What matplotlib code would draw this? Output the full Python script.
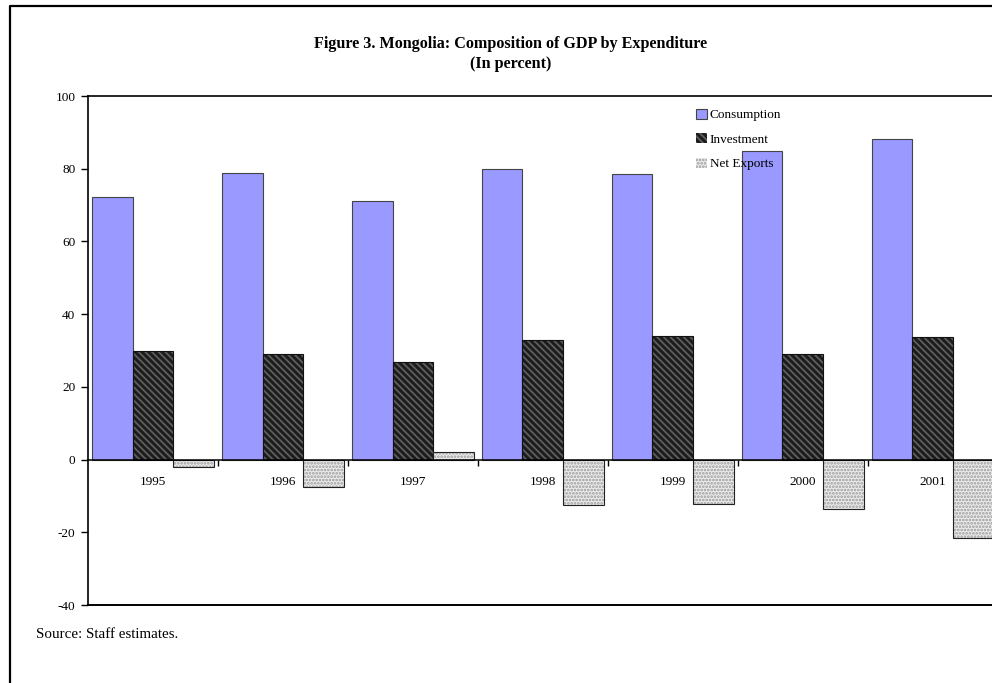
import numpy as np
import matplotlib
matplotlib.use('Agg')
import matplotlib.pyplot as plt
from matplotlib.lines import Line2D

plt.rcParams['font.family'] = ['Liberation Serif', 'DejaVu Serif']
plt.rcParams['hatch.linewidth'] = 1.3

# GDP shares by expenditure, percent
years = ['1995', '1996', '1997', '1998', '1999', '2000', '2001']
consumption = [72.2, 78.8, 71.1, 79.9, 78.5, 84.9, 88.1]
investment = [29.9, 29.0, 26.8, 32.9, 34.0, 29.0, 33.7]
net_exports = [-2.0, -7.5, 2.1, -12.5, -12.2, -13.6, -21.6]

fig = plt.figure(figsize=(9.92, 6.83), dpi=100)
ax = fig.add_axes([0.0887, 0.1142, 0.917, 0.7452])

x = np.arange(len(years))
w = 0.313

b1 = ax.bar(x - w, consumption, w, color='#9999ff', edgecolor='#444444', linewidth=0.8, label='Consumption')
# hatched bars: hatch colour comes from edgecolor, outline drawn on top
b2 = ax.bar(x, investment, w, color='#1c1c1c', edgecolor='#5e5e5e', hatch='\\\\\\\\\\', linewidth=0, label='Investment')
ax.bar(x, investment, w, fill=False, edgecolor='#111111', linewidth=0.8)
b3 = ax.bar(x + w, net_exports, w, color='#ececec', edgecolor='#9a9a9a', hatch='.....', linewidth=0, label='Net Exports')
ax.bar(x + w, net_exports, w, fill=False, edgecolor='#222222', linewidth=0.8)

ax.set_xlim(-0.5, len(years) - 0.5)
ax.set_ylim(-40, 100)
ax.set_yticks(range(-40, 101, 20))
ax.set_yticklabels([str(v) for v in range(-40, 101, 20)], fontsize=9.5)
ax.tick_params(axis='y', direction='out', length=5, width=1, pad=4)

# category axis sits on the zero line
ax.spines['bottom'].set_position(('data', 0))
ax.spines['bottom'].set_linewidth(1.1)
ax.set_xticks(x)
ax.set_xticklabels(years, fontsize=9.5)
ax.set_xticks(x[:-1] + 0.5, minor=True)
ax.tick_params(axis='x', which='major', length=0, pad=12)
ax.tick_params(axis='x', which='minor', direction='out', length=4, width=1)
ax.axhline(-40, color='black', linewidth=1.4, clip_on=False)
for s in ['left', 'top', 'right']:
    ax.spines[s].set_linewidth(1.2)

ax.legend(handles=[b1, b2, b3], loc='upper left', bbox_to_anchor=(0.702, 0.841),
          bbox_transform=fig.transFigure, frameon=False, fontsize=9.5,
          handlelength=0.8, handleheight=0.8, handletextpad=0.2, labelspacing=0.9,
          borderaxespad=0, borderpad=0)

fig.text(0.515, 0.9355, 'Figure 3. Mongolia: Composition of GDP by Expenditure',
         ha='center', va='center', fontsize=11.6, fontweight='bold')
fig.text(0.515, 0.906, '(In percent)', ha='center', va='center', fontsize=11.6, fontweight='bold')
fig.text(0.036, 0.0703, 'Source: Staff estimates.', ha='left', va='center', fontsize=10.8)

# page frame
fig.add_artist(Line2D([10 / 992, 10 / 992, 1.0], [0.0, 1 - 6 / 683, 1 - 6 / 683],
                      transform=fig.transFigure, color='black', linewidth=1.6))

fig.savefig('out.png', dpi=100)
